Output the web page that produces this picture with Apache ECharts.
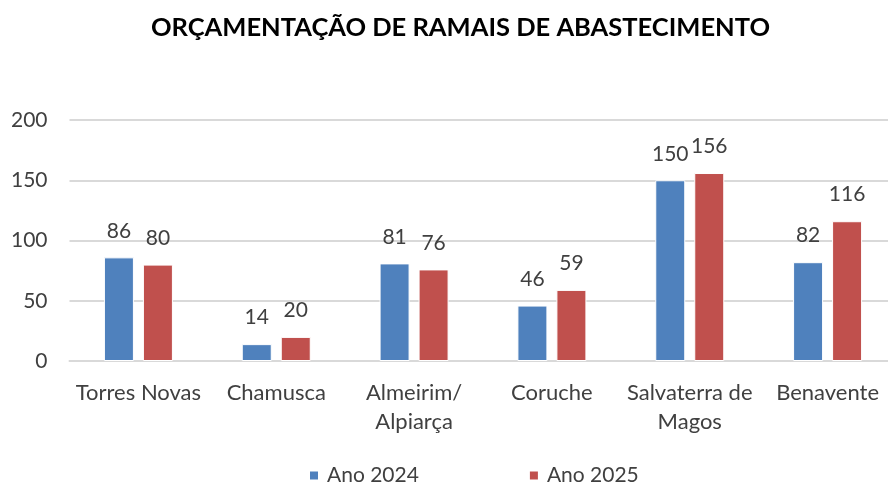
<!DOCTYPE html>
<html>
<head>
<meta charset="utf-8">
<script src="https://cdn.jsdelivr.net/npm/echarts@6/dist/echarts.min.js"></script>
<style>
html, body { margin: 0; padding: 0; background: #fff; }
#main { width: 888px; height: 487px; }
</style>
</head>
<body>
<div id="main"></div>
<script>
var categories = ['Torres Novas', 'Chamusca', 'Almeirim/\nAlpiarça', 'Coruche', 'Salvaterra de\nMagos', 'Benavente'];
var ano2024 = [86, 14, 81, 46, 150, 82];
var ano2025 = [80, 20, 76, 59, 156, 116];
var yTicks = [0, 50, 100, 150, 200];

var font = 'Lato';
var myChart = echarts.init(document.getElementById('main'));

var option = {
    animation: false,
    textStyle: { fontFamily: font },
    title: {
        text: 'ORÇAMENTAÇÃO DE RAMAIS DE ABASTECIMENTO',
        left: 151,
        top: 15,
        padding: 0,
        textStyle: { fontFamily: font, fontSize: 25.5, fontWeight: 'bold', color: '#000' }
    },
    legend: {
        top: 465,
        left: 308,
        padding: 0,
        itemWidth: 10,
        itemHeight: 10,
        itemGap: 109,
        icon: 'rect',
        textStyle: { fontFamily: font, fontSize: 21, color: '#404040', padding: [0, 0, 0, 3] },
        data: ['Ano 2024', 'Ano 2025']
    },
    grid: { left: 69.5, width: 827, top: 120, bottom: 126, outerBoundsMode: 'none' },
    xAxis: {
        type: 'category',
        data: categories,
        axisTick: { show: false },
        axisLine: { lineStyle: { color: '#d9d9d9', width: 2 } },
        axisLabel: { fontFamily: font, fontSize: 22, color: '#404040', margin: 17, lineHeight: 29, interval: 0 }
    },
    yAxis: {
        type: 'value',
        min: yTicks[0],
        max: yTicks[yTicks.length - 1],
        interval: 50,
        axisLine: { show: false },
        axisTick: { show: false },
        splitLine: { lineStyle: { color: '#d9d9d9', width: 2 } },
        axisLabel: { fontFamily: font, fontSize: 21, color: '#404040', margin: 22 }
    },
    series: [{
        name: 'Ano 2024',
        type: 'bar',
        data: ano2024,
        barWidth: 30,
        barGap: '30%',
        itemStyle: { color: '#4F81BD', borderColor: '#fff', borderWidth: 1 },
        label: { show: true, position: 'top', distance: 16, fontFamily: font, fontSize: 21, color: '#404040' }
    }, {
        name: 'Ano 2025',
        type: 'bar',
        data: ano2025,
        barWidth: 30,
        itemStyle: { color: '#C0504D', borderColor: '#fff', borderWidth: 1 },
        label: { show: true, position: 'top', distance: 16, fontFamily: font, fontSize: 21, color: '#404040' }
    }]
};

myChart.setOption(option);
</script>
</body>
</html>
